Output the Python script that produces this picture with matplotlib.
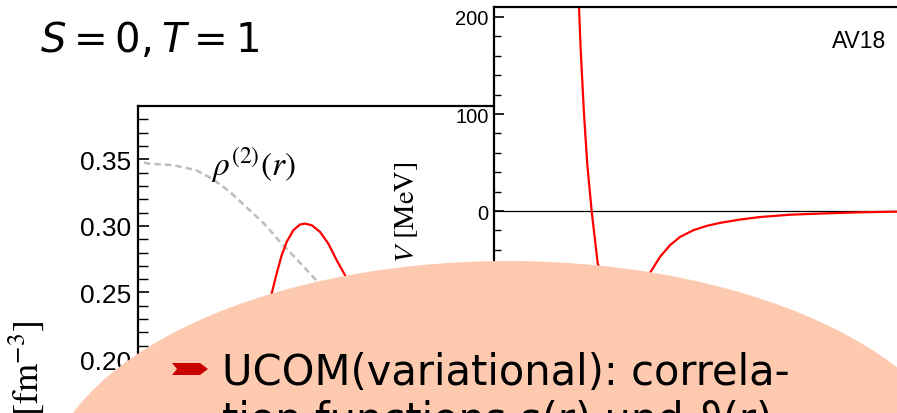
import numpy as np
import matplotlib
matplotlib.use('Agg')
import matplotlib.pyplot as plt
from matplotlib.patches import Ellipse, Polygon

# ------------------------------------------------------------------
# data
# ------------------------------------------------------------------
# left panel: two-body density rho^(2)(r) and the correlated (red) curve
rho_r = [0.03, 0.05, 0.18, 0.29, 0.37, 0.46, 0.54, 0.63, 0.71, 0.79, 0.89, 1.0, 1.2, 1.5]
rho_v = [0.3475, 0.3468, 0.3455, 0.3418, 0.3355, 0.3255, 0.3143, 0.3018, 0.288,
         0.2755, 0.2593, 0.240, 0.205, 0.165]
corr_r = [0.62, 0.6685, 0.6935, 0.7185, 0.7435, 0.7765, 0.81, 0.835, 0.8685, 0.91,
          0.9515, 0.9935, 1.035, 1.12]
corr_v = [0.20, 0.2493, 0.2643, 0.278, 0.288, 0.2967, 0.301, 0.3017, 0.3005, 0.2955,
          0.2867, 0.2742, 0.263, 0.23]

# right panel: AV18 potential, S=0 T=1 channel
pot_r = [0.60, 0.633, 0.645, 0.670, 0.695, 0.727, 0.772, 0.85, 0.95, 1.05, 1.174,
         1.236, 1.310, 1.385, 1.484, 1.584, 1.683, 1.831, 1.980, 2.204, 2.452, 2.701,
         2.973, 3.1]
pot_v = [300, 210, 167, 100, 47, 0, -54, -88, -98, -85, -61, -47.2, -35.3, -26.7,
         -19.8, -15.3, -12.2, -8.8, -6.2, -3.8, -2.5, -1.4, -0.7, -0.6]

rho_ticks = [0.20, 0.25, 0.30, 0.35]
pot_ticks = [0, 100, 200]

W, H = 897, 414
fig = plt.figure(figsize=(W / 100, H / 100), dpi=100)


def px_box(x0, y0, x1, y1):
    # pixel box (top-left origin) -> figure fraction rect
    return [x0 / W, 1 - y1 / H, (x1 - x0) / W, (y1 - y0) / H]


tick_font = 'Liberation Sans'

# ------------------------------------------------------------------
# left panel
# ------------------------------------------------------------------
axl = fig.add_axes(px_box(138, 107, 538, 414))
axl.plot(rho_r, rho_v, color='#bdbdbd', lw=1.8, ls=(0, (2.6, 1.6)))
axl.plot(corr_r, corr_v, color='#ff0000', lw=1.6)
axl.set_xlim(0, 2.0)
axl.set_ylim(0.1595, 0.390)
axl.set_yticks(rho_ticks)
axl.set_yticklabels([f'{t:.2f}' for t in rho_ticks], fontfamily=tick_font, fontsize=19)
axl.set_yticks(np.arange(0.16, 0.39, 0.01), minor=True)
axl.tick_params(axis='y', which='major', direction='in', length=8, width=1.2, pad=5)
axl.tick_params(axis='y', which='minor', direction='in', length=7, width=1.0)
axl.tick_params(axis='x', which='both', bottom=False, labelbottom=False)
for s in axl.spines.values():
    s.set_linewidth(1.6)

# ------------------------------------------------------------------
# right panel
# ------------------------------------------------------------------
scale = 403 / 3.0   # px per fm
axr = fig.add_axes(px_box(494, 8, 494 + 3.1 * scale, 414), zorder=2)
axr.axhline(0, color='black', lw=0.9)
axr.plot(pot_r, pot_v, color='#ff0000', lw=1.6)
axr.set_xlim(0, 3.1)
axr.set_ylim(-208.2, 210.3)
axr.set_yticks(pot_ticks)
axr.set_yticklabels([str(t) for t in pot_ticks], fontfamily=tick_font, fontsize=14.5)
axr.set_yticks(np.arange(-200, 211, 20), minor=True)
axr.tick_params(axis='y', which='major', direction='in', length=7, width=1.2, pad=4)
axr.tick_params(axis='y', which='minor', direction='in', length=5, width=1.0)
axr.tick_params(axis='x', which='both', bottom=False, labelbottom=False)
for s in axr.spines.values():
    s.set_linewidth(1.6)
axr.text(0.941, 0.945, 'AV18', transform=axr.transAxes, ha='right', va='top',
         fontfamily=tick_font, fontsize=16.5)

# ------------------------------------------------------------------
# overlay in pixel coordinates: labels, title, the salmon bubble
# ------------------------------------------------------------------
ov = fig.add_axes([0, 0, 1, 1], zorder=5)
ov.set_xlim(0, W)
ov.set_ylim(H, 0)
ov.set_axis_off()

ov.text(40, 52, r'$S=0,T=1$', fontsize=29, math_fontfamily='dejavusans',
        ha='left', va='baseline')
ov.text(211, 176, r'$\rho^{(2)}(r)$', fontsize=24, math_fontfamily='stix',
        ha='left', va='baseline')
ov.text(406, 162, r'$V\ [\mathrm{MeV}]$', fontsize=20.5, math_fontfamily='stix',
        rotation=90, ha='center', va='top', zorder=0.5)
ov.text(26, 321, r'$[\mathrm{fm}^{-3}]$', fontsize=26, math_fontfamily='stix',
        rotation=90, ha='center', va='top', zorder=0.5)

ov.add_patch(Ellipse((508, 497), 2 * 465, 2 * 235, facecolor='#fdcab0',
                     edgecolor='none', zorder=1))
ov.add_patch(Polygon([(172, 364), (200, 364), (208, 370), (200, 376), (172, 376),
                      (177, 370)], closed=True, facecolor='#c80000',
                     edgecolor='none', zorder=2))
ov.text(222, 385, 'UCOM(variational): correla-', fontsize=30,
        fontfamily='DejaVu Sans', ha='left', va='baseline', zorder=3)
ov.text(222, 433, 'tion functions s(r) und \u03d1(r)', fontsize=30,
        fontfamily='DejaVu Sans', ha='left', va='baseline', zorder=3)

fig.savefig('out.png', dpi=100)
